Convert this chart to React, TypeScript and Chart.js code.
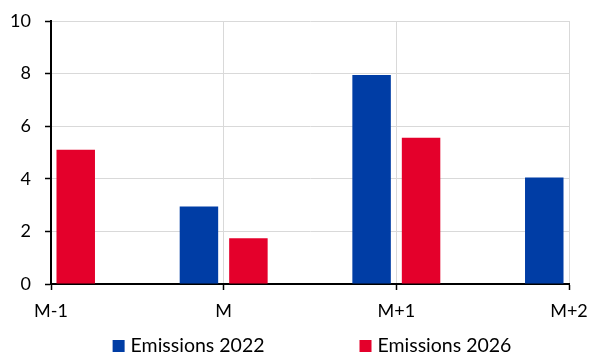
import React, { useEffect, useRef } from 'react';
import { Chart, registerables } from 'chart.js';

Chart.register(...registerables);

const categories = ['M-1', 'M', 'M+1', 'M+2'];
const emissions2022: (number | null)[] = [null, 2.95, 7.95, 4.05];
const emissions2026: (number | null)[] = [5.1, 1.74, 5.56, null];
const seriesLabels = ['Emissions 2022', 'Emissions 2026'];
const yMin = 0;
const yMax = 10;
const yStep = 2;

const BLUE = '#003DA5';
const RED = '#E4002B';
const FONT = 'Lato, "Liberation Sans", sans-serif';
const W = 592;
const H = 355;

const legendPlugin = {
  id: 'bottomLegend',
  afterDraw(chart: any) {
    const { ctx, chartArea } = chart;
    ctx.save();
    ctx.font = `19.5px ${FONT}`;
    ctx.textBaseline = 'middle';
    ctx.textAlign = 'left';
    const box = 12;
    const gapText = 6;
    const gapItems = 95;
    const items = chart.data.datasets.map((ds: any) => ({
      text: ds.label as string,
      color: ds.backgroundColor as string,
      w: box + gapText + ctx.measureText(ds.label).width,
    }));
    const total = items.reduce((s: number, it: any) => s + it.w, 0) + gapItems * (items.length - 1);
    let x = (chartArea.left + chartArea.right) / 2 + 2 - total / 2;
    const y = chart.height - 9;
    items.forEach((it: any) => {
      ctx.fillStyle = it.color;
      ctx.fillRect(x, y - box / 2, box, box);
      ctx.fillStyle = '#000';
      ctx.fillText(it.text, x + box + gapText, y);
      x += it.w + gapItems;
    });
    ctx.restore();
  },
};

export default function App() {
  const ref = useRef<HTMLCanvasElement>(null);

  useEffect(() => {
    if (!ref.current) return;
    const chart = new Chart(ref.current, {
      type: 'bar',
      data: {
        labels: categories,
        datasets: [
          {
            label: seriesLabels[0],
            data: emissions2022,
            backgroundColor: BLUE,
            borderWidth: 0,
            barPercentage: 0.778,
            categoryPercentage: 0.573,
          },
          {
            label: seriesLabels[1],
            data: emissions2026,
            backgroundColor: RED,
            borderWidth: 0,
            barPercentage: 0.778,
            categoryPercentage: 0.573,
          },
        ],
      },
      options: {
        responsive: false,
        animation: false,
        layout: { padding: { top: 21, right: 23, left: 0, bottom: 0 } },
        plugins: {
          legend: { display: false },
          tooltip: { enabled: false },
        },
        scales: {
          x: {
            offset: false,
            grid: {
              offset: false,
              color: '#D9D9D9',
              lineWidth: 1,
              tickColor: '#000',
              tickLength: 6,
              tickWidth: 1.5,
            },
            border: { color: '#000', width: 2 },
            ticks: {
              color: '#000',
              font: { family: FONT, size: 18 },
              padding: 10,
              maxRotation: 0,
            },
            afterFit: (scale: any) => {
              scale.height = 71;
              scale.paddingLeft = 0;
              scale.paddingRight = 0;
            },
          },
          y: {
            min: yMin,
            max: yMax,
            grid: {
              color: '#D9D9D9',
              lineWidth: 1,
              tickColor: '#000',
              tickLength: 6,
              tickWidth: 1.5,
            },
            border: { color: '#000', width: 2 },
            ticks: {
              stepSize: yStep,
              color: '#000',
              font: { family: FONT, size: 18 },
              padding: 14,
            },
            afterFit: (scale: any) => {
              scale.width = 51;
              scale.paddingTop = 0;
              scale.paddingBottom = 0;
            },
          },
        },
      },
      plugins: [legendPlugin],
    });
    return () => chart.destroy();
  }, []);

  return (
    <div style={{ position: 'absolute', left: 0, top: 0, width: W, height: H, background: '#fff' }}>
      <canvas ref={ref} width={W} height={H} style={{ display: 'block' }} />
    </div>
  );
}
